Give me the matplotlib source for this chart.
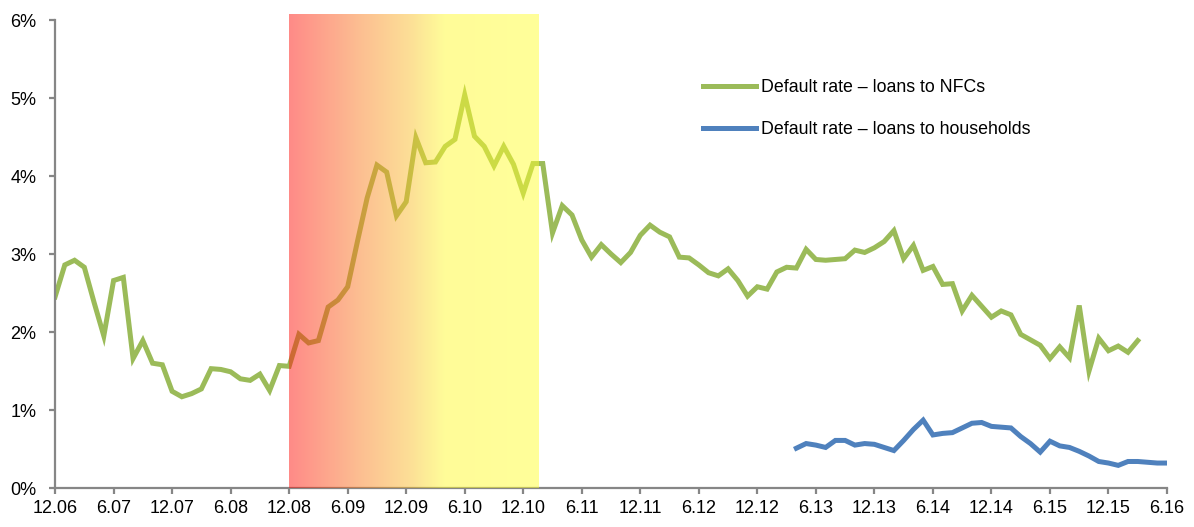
import matplotlib

matplotlib.use("Agg", force=True)
import matplotlib.pyplot as plt
import numpy as np
from matplotlib.colors import to_rgb

plt.rcParams["font.family"] = ["Liberation Sans", "DejaVu Sans"]

# monthly default rates (%), month 0 = Dec 2006
nfc_start = 0
nfc_rate = [
    2.45, 2.86, 2.92, 2.83, 2.38, 1.95, 2.66, 2.70, 1.66, 1.89,
    1.60, 1.58, 1.24, 1.17, 1.21, 1.27, 1.53, 1.52, 1.49, 1.40,
    1.38, 1.46, 1.25, 1.57, 1.56, 1.97, 1.86, 1.89, 2.32, 2.41,
    2.58, 3.16, 3.72, 4.14, 4.05, 3.49, 3.67, 4.49, 4.17, 4.18,
    4.38, 4.47, 5.04, 4.51, 4.38, 4.13, 4.38, 4.15, 3.78, 4.16,
    4.16, 3.27, 3.62, 3.50, 3.18, 2.96, 3.12, 3.00, 2.89, 3.02,
    3.24, 3.37, 3.28, 3.22, 2.96, 2.95, 2.86, 2.76, 2.72, 2.81,
    2.66, 2.46, 2.58, 2.55, 2.77, 2.83, 2.82, 3.06, 2.93, 2.92,
    2.93, 2.94, 3.05, 3.02, 3.08, 3.16, 3.30, 2.94, 3.11, 2.79,
    2.84, 2.61, 2.62, 2.27, 2.47, 2.33, 2.19, 2.27, 2.22, 1.97,
    1.90, 1.83, 1.66, 1.81, 1.67, 2.34, 1.50, 1.92, 1.76, 1.82,
    1.74, 1.89,
]

hh_start = 76
hh_rate = [
    0.51, 0.57, 0.55, 0.52, 0.61, 0.61, 0.55, 0.57, 0.56, 0.52,
    0.48, 0.61, 0.75, 0.87, 0.68, 0.70, 0.71, 0.77, 0.83, 0.84,
    0.79, 0.78, 0.77, 0.66, 0.57, 0.46, 0.60, 0.54, 0.52, 0.47,
    0.41, 0.34, 0.32, 0.29, 0.34, 0.34, 0.33, 0.32, 0.32,
]

tick_labels = [
    "12.06", "6.07", "12.07", "6.08", "12.08", "6.09", "12.09", "6.10",
    "12.10", "6.11", "12.11", "6.12", "12.12", "6.13", "12.13", "6.14",
    "12.14", "6.15", "12.15", "6.16",
]

# crisis band: Dec 2008 to early 2011, red fading to yellow
band_start, band_end = 24, 49.6
band_stops = [0.0, 0.28, 0.48, 0.62, 1.0]
band_colors = ["#ff8a87", "#fcbe91", "#fcde96", "#fffc98", "#ffff99"]
band_alpha = 0.5

GREEN = "#9bbb59"
BLUE = "#4f81bd"
AXIS_GREY = "#868686"

fig = plt.figure(figsize=(11.94, 5.27), dpi=100)
ax = fig.add_axes([0.0461, 0.0740, 0.9313, 0.888])

x_nfc = np.arange(nfc_start, nfc_start + len(nfc_rate))
x_hh = np.arange(hh_start, hh_start + len(hh_rate))
ax.plot(x_nfc, nfc_rate, color=GREEN, lw=3.6, solid_joinstyle="miter",
        label="Default rate – loans to NFCs", zorder=2)
ax.plot(x_hh, hh_rate, color=BLUE, lw=3.6, solid_joinstyle="miter",
        label="Default rate – loans to households", zorder=2)

# semi-transparent gradient laid over the lines
frac = np.linspace(0, 1, 300)
rgb = np.array([to_rgb(c) for c in band_colors])
under = np.clip(1 - (1 - rgb) / band_alpha, 0, 1)
grad = np.stack([np.interp(frac, band_stops, under[:, k]) for k in range(3)], axis=-1)
ax.imshow(grad[np.newaxis, :, :], extent=[band_start, band_end, 0, 6.07],
          aspect="auto", alpha=band_alpha, zorder=3, clip_on=False,
          interpolation="bilinear")

ax.set_xlim(0, 114)
ax.set_ylim(0, 6)
ax.set_xticks(np.arange(0, 115, 6))
ax.set_xticklabels(tick_labels)
ax.set_yticks(np.arange(0, 7))
ax.set_yticklabels([f"{v}%" for v in range(7)])

for side in ("top", "right"):
    ax.spines[side].set_visible(False)
for side in ("left", "bottom"):
    ax.spines[side].set_color(AXIS_GREY)
    ax.spines[side].set_linewidth(1.6)
ax.tick_params(axis="both", colors=AXIS_GREY, width=1.6, length=4.5,
               labelcolor="black", labelsize=13)
ax.tick_params(axis="y", pad=9)
ax.tick_params(axis="x", pad=4)

ax.legend(loc="upper left", bbox_to_anchor=(0.576, 0.889), frameon=False,
          fontsize=12.8, handlelength=3.0, handletextpad=0.3,
          labelspacing=1.4, borderaxespad=0)

fig.savefig("out.png", dpi=100)
